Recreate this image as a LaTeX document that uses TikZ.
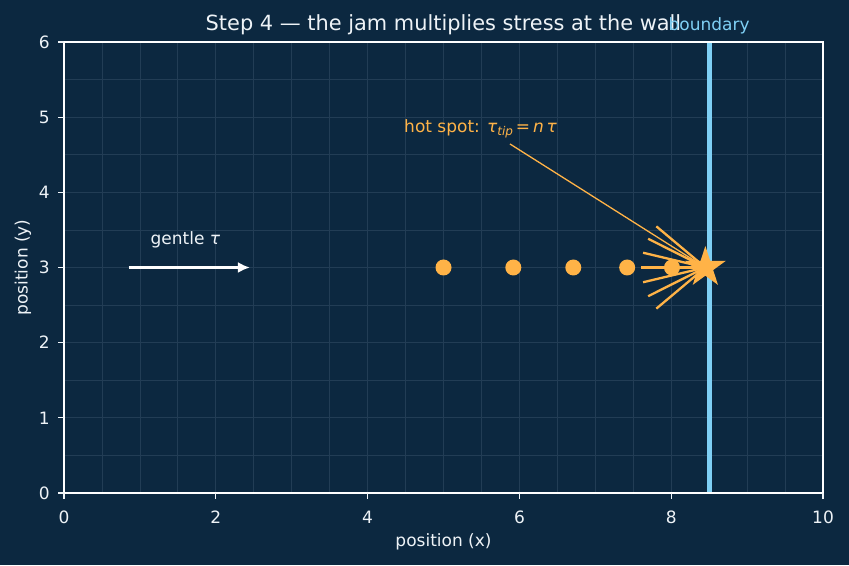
\documentclass[tikz,border=0pt]{standalone}
\usepackage{fontspec}
\setmainfont{DejaVu Sans}
\usetikzlibrary{shapes.geometric,arrows.meta}
\definecolor{bg}{HTML}{0C2840}
\definecolor{gridc}{HTML}{223D55}
\definecolor{orng}{HTML}{FFB347}
\definecolor{sky}{HTML}{7FD0F5}
\definecolor{txt}{HTML}{EEF3F7}
\tikzset{
  lbl/.style={text=txt, inner sep=0pt, font=\fontsize{17}{20}\selectfont},
  dot/.style={circle, fill=orng, inner sep=0pt, minimum size=16pt},
  ray/.style={orng, line width=2.3pt},
  tickmark/.style={txt, line width=1.2pt},
}
\begin{document}
\begin{tikzpicture}[x=75.9pt,y=75.17pt]
\fill[bg] (-0.8432,-0.9578) rectangle (10.3425,6.5585);
\useasboundingbox (-0.8432,-0.9578) rectangle (10.3425,6.5585);
% grid
\draw[gridc, line width=0.8pt] (0,0) grid[xstep=0.5,ystep=0.5] (10,6);
% boundary
\coordinate (b0) at (8.5,0);
\coordinate (b1) at (8.5,6);
\draw[sky, line width=5pt] (b0) -- (b1);
% axes frame
\draw[white, line width=1.5pt] (0,0) rectangle (10,6);
% ticks
\foreach \x in {0,2,4,6,8,10} {
  \draw[tickmark] (\x,0) -- ++(0,-6pt);
  \node[lbl, anchor=north] at ([yshift=-18pt]\x,0) {\x};
}
\foreach \y in {0,...,6} {
  \draw[tickmark] (0,\y) -- ++(-6pt,0);
  \node[lbl, anchor=east] at ([xshift=-14pt]0,\y) {\y};
}
% axis labels and title
\node[lbl] (xl) at (5,-0.652) {position (x)};
\node[lbl, rotate=90] (yl) at (-0.54,3) {position (y)};
\node[lbl, anchor=base, font=\fontsize{20.9}{24}\selectfont] (title) at (5,6.15) {Step 4 — the jam multiplies stress at the wall};
\node[lbl, anchor=base, text=sky] (blab) at (8.5,6.15) {boundary};
% star position
\coordinate (sc) at (8.45,3);
% radiating rays
\foreach \a in {140,153.333,166.667,180,193.333,206.667,220} {
  \draw[ray] (sc) -- ++(\a:64pt);
}
% annotation
\node[lbl, anchor=base west, text=orng] (hot) at (4.48,4.80) {hot spot: \textit{τ}\raisebox{-0.35ex}{\fontsize{12}{14}\selectfont\textit{tip}}\,=\,\textit{n}\,\textit{τ}};
\coordinate (hs0) at (5.876,4.643);
\draw[orng, line width=1.3pt] (hs0) -- (sc);
% dots
\foreach \xx/\nm in {5.0/d1,5.92/d2,6.71/d3,7.42/d4,8.01/d5} {
  \node[dot] (\nm) at (\xx,3) {};
}
% star
\node[star, star points=5, star point ratio=2.618, fill=orng, inner sep=0pt, minimum size=43pt] (st) at (sc) {};
% gentle arrow
\coordinate (g0) at (0.85,3);
\coordinate (g1) at (2.45,3);
\draw[white, line width=3.2pt, -{Latex[length=12pt,width=11pt]}] (g0) -- (g1);
\node[lbl, anchor=base] (gl) at (1.60,3.30) {gentle \textit{τ}};
\end{tikzpicture}
\end{document}
